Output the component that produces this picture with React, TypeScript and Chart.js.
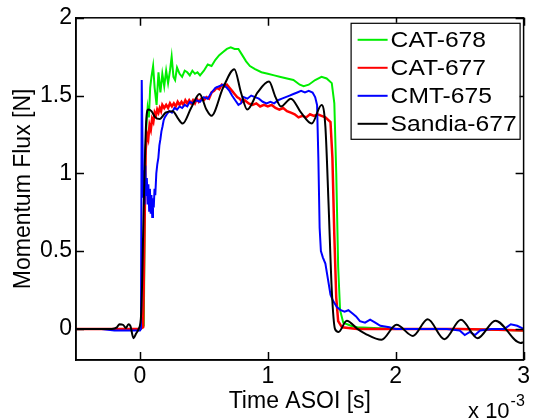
import React, { useEffect, useRef } from "react";
import { Chart, registerables } from "chart.js";

Chart.register(...registerables);

const seriesLabels = ["CAT-678", "CAT-677", "CMT-675", "Sandia-677"];
const seriesColors = ["#00ee00", "#ff0000", "#0000ff", "#000000"];

const xTickValues = [0, 1, 2, 3];
const yTickValues = [0, 0.5, 1, 1.5, 2];
const xLimits = [-0.5, 3];
const yLimits = [-0.2, 2];

// time in units of 1e-3 s, momentum flux in N
const cat678: [number, number][] = [
  [-0.5, 0], [0.0, 0], [0.03, 0.02], [0.042, 1.1], [0.05, 1.3], [0.06, 1.42], [0.07, 1.36], [0.08, 1.55],
  [0.09, 1.62], [0.103, 1.69], [0.115, 1.55], [0.13, 1.44], [0.145, 1.65], [0.16, 1.52], [0.175, 1.64],
  [0.19, 1.56], [0.205, 1.66], [0.22, 1.58], [0.235, 1.66], [0.248, 1.75], [0.262, 1.62], [0.275, 1.6],
  [0.29, 1.68], [0.31, 1.64], [0.33, 1.62], [0.35, 1.66], [0.37, 1.65], [0.39, 1.63], [0.41, 1.66],
  [0.43, 1.64], [0.45, 1.65], [0.47, 1.63], [0.5, 1.66], [0.53, 1.7], [0.56, 1.69], [0.59, 1.73],
  [0.62, 1.76], [0.65, 1.78], [0.68, 1.8], [0.71, 1.81], [0.74, 1.8], [0.77, 1.8], [0.8, 1.76],
  [0.83, 1.72], [0.86, 1.69], [0.9, 1.67], [0.95, 1.65], [1.0, 1.64], [1.05, 1.63], [1.1, 1.62],
  [1.15, 1.61], [1.2, 1.6], [1.25, 1.57], [1.28, 1.56], [1.32, 1.57], [1.37, 1.6], [1.42, 1.62],
  [1.46, 1.61], [1.5, 1.58], [1.52, 1.45], [1.535, 1.0], [1.55, 0.4], [1.565, 0.12], [1.59, 0.04],
  [1.65, 0.02], [1.7, 0.01], [2.0, 0.0], [2.5, 0.0], [3.0, -0.01],
];

const cat677: [number, number][] = [
  [-0.5, 0], [0.0, 0], [0.025, 0.01], [0.035, 0.6], [0.045, 1.15], [0.055, 1.25], [0.065, 1.22],
  [0.075, 1.31], [0.085, 1.28], [0.095, 1.35], [0.105, 1.33], [0.115, 1.39], [0.125, 1.37],
  [0.135, 1.41], [0.145, 1.39], [0.155, 1.42], [0.165, 1.4], [0.175, 1.44], [0.19, 1.42],
  [0.205, 1.44], [0.22, 1.42], [0.235, 1.45], [0.25, 1.43], [0.265, 1.45], [0.28, 1.43],
  [0.295, 1.46], [0.31, 1.44], [0.325, 1.46], [0.34, 1.44], [0.355, 1.47], [0.37, 1.45],
  [0.385, 1.47], [0.4, 1.45], [0.415, 1.47], [0.43, 1.45], [0.445, 1.48], [0.46, 1.46],
  [0.48, 1.48], [0.5, 1.47], [0.52, 1.49], [0.54, 1.48], [0.56, 1.52], [0.58, 1.53], [0.6, 1.55],
  [0.62, 1.54], [0.64, 1.57], [0.66, 1.56], [0.68, 1.57], [0.7, 1.55], [0.72, 1.53], [0.74, 1.51],
  [0.76, 1.49], [0.78, 1.48], [0.8, 1.46], [0.82, 1.47], [0.85, 1.45], [0.88, 1.44], [0.91, 1.45],
  [0.94, 1.43], [0.97, 1.44], [1.0, 1.43], [1.03, 1.44], [1.06, 1.42], [1.09, 1.41], [1.12, 1.42],
  [1.15, 1.4], [1.18, 1.39], [1.21, 1.38], [1.24, 1.36], [1.27, 1.37], [1.3, 1.36], [1.33, 1.38],
  [1.36, 1.37], [1.39, 1.38], [1.42, 1.37], [1.45, 1.36], [1.49, 1.33], [1.505, 1.1], [1.52, 0.6],
  [1.535, 0.2], [1.55, 0.05], [1.58, 0.01], [1.7, 0.0], [2.0, 0.0], [2.5, 0.0], [2.8, -0.005], [3.0, -0.01],
];

const cmt675: [number, number][] = [
  [-0.5, 0], [-0.3, 0], [-0.2, -0.01], [-0.1, -0.01], [0.0, -0.01], [0.008, 0.0], [0.014, 1.6],
  [0.02, 1.2], [0.025, 0.85], [0.03, 1.02], [0.036, 0.8], [0.042, 1.05], [0.048, 0.86], [0.054, 0.97],
  [0.06, 0.8], [0.066, 0.93], [0.072, 0.76], [0.078, 0.9], [0.084, 0.74], [0.09, 0.86], [0.096, 0.72],
  [0.102, 0.84], [0.108, 0.78], [0.114, 0.9], [0.12, 0.86], [0.128, 1.0], [0.136, 1.06], [0.144, 1.1],
  [0.152, 1.18], [0.16, 1.22], [0.168, 1.27], [0.176, 1.3], [0.185, 1.34], [0.194, 1.36], [0.21, 1.38],
  [0.23, 1.4], [0.25, 1.39], [0.27, 1.42], [0.29, 1.41], [0.31, 1.43], [0.33, 1.42], [0.35, 1.44],
  [0.37, 1.43], [0.39, 1.46], [0.41, 1.45], [0.44, 1.47], [0.47, 1.46], [0.5, 1.49], [0.53, 1.48],
  [0.56, 1.52], [0.59, 1.55], [0.62, 1.56], [0.65, 1.57], [0.68, 1.55], [0.7, 1.53], [0.72, 1.5],
  [0.745, 1.47], [0.77, 1.44], [0.79, 1.45], [0.81, 1.49], [0.84, 1.48], [0.87, 1.5], [0.9, 1.49],
  [0.93, 1.48], [0.96, 1.46], [0.99, 1.45], [1.02, 1.46], [1.05, 1.45], [1.08, 1.47], [1.11, 1.48],
  [1.14, 1.49], [1.17, 1.5], [1.2, 1.51], [1.23, 1.52], [1.26, 1.53], [1.29, 1.52], [1.32, 1.53],
  [1.35, 1.52], [1.37, 1.49], [1.385, 1.44], [1.395, 1.1], [1.405, 0.65], [1.415, 0.5], [1.43, 0.46],
  [1.45, 0.42], [1.47, 0.32], [1.49, 0.22], [1.51, 0.18], [1.54, 0.14], [1.57, 0.12], [1.6, 0.11],
  [1.63, 0.12], [1.66, 0.1], [1.69, 0.08], [1.72, 0.05], [1.76, 0.04], [1.8, 0.06], [1.84, 0.04],
  [1.88, 0.02], [1.95, 0.01], [2.0, 0.0], [2.2, 0.0], [2.4, 0.0], [2.5, -0.01], [2.54, -0.04],
  [2.58, -0.02], [2.62, -0.04], [2.66, -0.01], [2.75, 0.0], [2.85, 0.0], [2.9, 0.03], [2.95, 0.02], [3.0, 0.0],
];

const sandia677: [number, number][] = [
  [-0.5, 0], [-0.22, 0], [-0.18, 0.01], [-0.16, 0.03], [-0.13, 0.025], [-0.11, 0.005], [-0.09, 0.03],
  [-0.075, 0.02], [-0.05, -0.06], [-0.03, -0.03], [-0.01, 0.0], [0.01, 0.1], [0.03, 0.8], [0.05, 1.35],
  [0.065, 1.41], [0.09, 1.4], [0.12, 1.36], [0.155, 1.35], [0.2, 1.39], [0.256, 1.4], [0.3, 1.35],
  [0.334, 1.32], [0.4, 1.42], [0.466, 1.51], [0.52, 1.41], [0.559, 1.37], [0.65, 1.55], [0.738, 1.67],
  [0.79, 1.52], [0.839, 1.41], [0.92, 1.52], [1.009, 1.59], [1.06, 1.49], [1.102, 1.43], [1.18, 1.48],
  [1.26, 1.39], [1.343, 1.32], [1.42, 1.44], [1.45, 1.3], [1.475, 0.8], [1.5, 0.25], [1.525, 0.0],
  [1.553, -0.02], [1.617, 0.053], [1.7, 0.0], [1.76, -0.03], [1.889, -0.07], [2.006, 0.026],
  [2.135, -0.045], [2.25, 0.062], [2.381, -0.066], [2.51, 0.058], [2.64, -0.06], [2.78, 0.053],
  [2.976, -0.09], [3.0, -0.085],
];

const seriesData = [cat678, cat677, cmt675, sandia677];
const exponentBase = "x 10";
const exponentPower = "-3";

const FONT = "'Liberation Sans', Arial, sans-serif";

const framePlugin = {
  id: "matlabFrame",
  afterDatasetsDraw(chart: any) {
    const { ctx, chartArea, scales } = chart;
    const { left, right, top, bottom } = chartArea;
    const xs = scales.x;
    const ys = scales.y;
    ctx.save();
    ctx.strokeStyle = "#000";
    ctx.lineWidth = 1.5;
    ctx.strokeRect(left, top, right - left, bottom - top);
    const L = 8;
    ctx.beginPath();
    for (const v of xTickValues) {
      const px = Math.round(xs.getPixelForValue(v)) + 0.5;
      ctx.moveTo(px, bottom);
      ctx.lineTo(px, bottom - L);
      ctx.moveTo(px, top);
      ctx.lineTo(px, top + L);
    }
    for (const v of yTickValues) {
      const py = Math.round(ys.getPixelForValue(v)) + 0.5;
      ctx.moveTo(left, py);
      ctx.lineTo(left + L, py);
      ctx.moveTo(right, py);
      ctx.lineTo(right - L, py);
    }
    ctx.stroke();

    // legend
    const bw = 169;
    const bh = 116;
    const bx = right - 4 - bw;
    const by = top + 5;
    ctx.fillStyle = "#fff";
    ctx.fillRect(bx, by, bw, bh);
    ctx.lineWidth = 1.2;
    ctx.strokeStyle = "#000";
    ctx.strokeRect(bx + 0.5, by + 0.5, bw, bh);
    chart.data.datasets.forEach((ds: any, i: number) => {
      const cy = by + 17 + i * 28;
      ctx.strokeStyle = ds.borderColor;
      ctx.lineWidth = 2;
      ctx.beginPath();
      ctx.moveTo(bx + 7, cy);
      ctx.lineTo(bx + 37, cy);
      ctx.stroke();
      ctx.save();
      ctx.translate(bx + 40, cy + 1);
      ctx.scale(1.12, 1);
      ctx.font = `22px ${FONT}`;
      ctx.textBaseline = "middle";
      ctx.textAlign = "left";
      ctx.fillStyle = "#000";
      ctx.fillText(ds.label, 0, 0);
      ctx.restore();
    });

    // exponent label
    ctx.fillStyle = "#000";
    ctx.textBaseline = "alphabetic";
    ctx.textAlign = "right";
    ctx.font = `22px ${FONT}`;
    const baseX = right - 14;
    ctx.fillText(exponentBase, baseX, 418);
    ctx.textAlign = "left";
    ctx.font = `16px ${FONT}`;
    ctx.fillText(exponentPower, baseX + 1, 406);
    ctx.restore();
  },
};

export default function App() {
  const ref = useRef<HTMLCanvasElement | null>(null);
  useEffect(() => {
    if (!ref.current) return;
    const chart = new Chart(ref.current, {
      type: "line",
      data: {
        datasets: seriesData.map((s, i) => ({
          label: seriesLabels[i],
          data: s.map(([t, v]) => ({ x: t, y: v })),
          borderColor: seriesColors[i],
          backgroundColor: seriesColors[i],
          borderWidth: i === 1 ? 2.5 : 2,
          pointRadius: 0,
          tension: 0,
          cubicInterpolationMode: i === 3 ? "monotone" : "default",
          order: 4 - i,
        })),
      },
      options: {
        animation: false,
        responsive: false,
        events: [],
        layout: { padding: { top: 16, right: 7, left: 0, bottom: 0 } },
        plugins: { legend: { display: false }, tooltip: { enabled: false } },
        scales: {
          x: {
            type: "linear",
            min: xLimits[0],
            max: xLimits[1],
            afterBuildTicks: (axis: any) => {
              axis.ticks = xTickValues.map((v) => ({ value: v }));
            },
            afterFit: (axis: any) => {
              axis.height = 60;
            },
            grid: { display: false, drawTicks: false },
            border: { display: true, color: "#000", width: 1.5 },
            ticks: {
              color: "#000",
              font: { family: FONT, size: 23 },
              padding: 3,
              maxRotation: 0,
              callback: (v: any) => String(v),
            },
            title: {
              display: true,
              text: "Time ASOI [s]",
              color: "#000",
              font: { family: FONT, size: 23 },
              padding: { top: 0, bottom: 5 },
            },
          },
          y: {
            type: "linear",
            min: yLimits[0],
            max: yLimits[1],
            afterBuildTicks: (axis: any) => {
              axis.ticks = yTickValues.map((v) => ({ value: v }));
            },
            afterFit: (axis: any) => {
              axis.width = 76;
            },
            grid: { display: false, drawTicks: false },
            border: { display: true, color: "#000", width: 1.5 },
            ticks: {
              color: "#000",
              font: { family: FONT, size: 23 },
              padding: 4,
              callback: (v: any) => String(v),
            },
            title: {
              display: true,
              text: "Momentum Flux [N]",
              color: "#000",
              font: { family: FONT, size: 23 },
              padding: { top: 10, bottom: 0 },
            },
          },
        },
      },
      plugins: [framePlugin],
    });
    return () => chart.destroy();
  }, []);
  return (
    <div style={{ position: "absolute", left: 0, top: 0, width: 533, height: 420, background: "#fff" }}>
      <canvas ref={ref} width={533} height={420} style={{ display: "block" }} />
    </div>
  );
}
